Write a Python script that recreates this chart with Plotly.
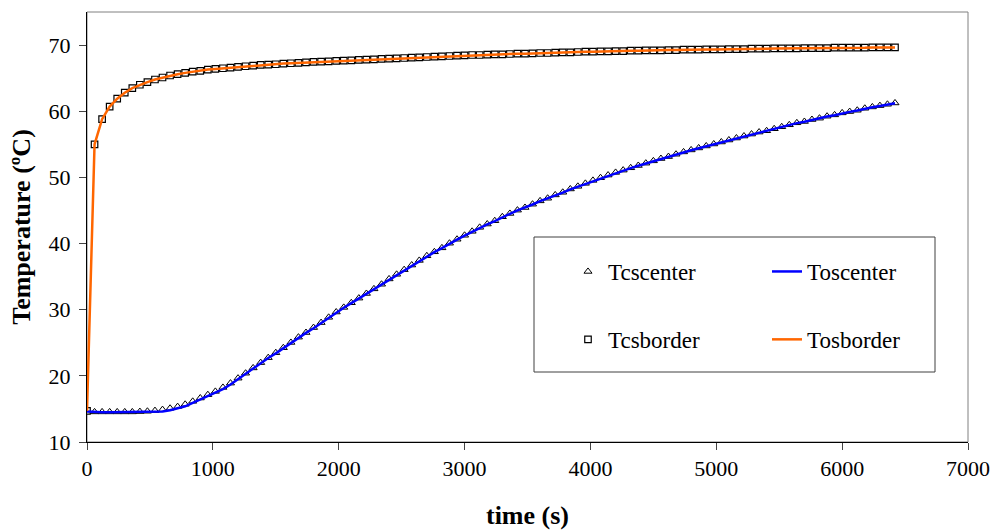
import plotly.graph_objects as go

# time grid (s), one sample every 60 s
time_s = list(range(0, 6421, 60))

# Border temperature (markers: Tcsborder, line: Tosborder)
tc_border = [14.7, 55.0, 58.8, 60.7, 61.9, 62.8, 63.5, 64.0, 64.4, 64.8,
             65.1, 65.4, 65.6, 65.8, 66.0, 66.1, 66.3, 66.4, 66.5, 66.6,
             66.7, 66.8, 66.9, 67.0, 67.05, 67.1, 67.2, 67.25, 67.3, 67.4,
             67.45, 67.5, 67.55, 67.6, 67.65, 67.7, 67.75, 67.8, 67.85, 67.9,
             67.95, 68.0, 68.05, 68.1, 68.15, 68.2, 68.25, 68.3, 68.35, 68.4,
             68.45, 68.5, 68.5, 68.55, 68.6, 68.6, 68.65, 68.7, 68.7, 68.75,
             68.8, 68.8, 68.85, 68.9, 68.9, 68.95, 69.0, 69.0, 69.05, 69.05,
             69.1, 69.1, 69.15, 69.15, 69.2, 69.2, 69.2, 69.25, 69.25, 69.3,
             69.3, 69.3, 69.35, 69.35, 69.35, 69.4, 69.4, 69.4, 69.45, 69.45,
             69.45, 69.5, 69.5, 69.5, 69.5, 69.55, 69.55, 69.55, 69.55, 69.6,
             69.6, 69.6, 69.6, 69.6, 69.65, 69.65, 69.65, 69.65]
to_border = list(tc_border)

# Center temperature, line (Toscenter)
to_center = [14.6, 14.5, 14.5, 14.5, 14.5, 14.5, 14.5, 14.5, 14.5, 14.55,
             14.6, 14.8, 15.05, 15.4, 15.9, 16.4, 16.9, 17.4, 18.0, 18.7,
             19.5, 20.3, 21.1, 21.95, 22.7, 23.4, 24.2, 25.0, 25.8, 26.5,
             27.2, 28.0, 28.8, 29.6, 30.3, 31.0, 31.7, 32.4, 33.1, 33.8,
             34.6, 35.3, 36.0, 36.7, 37.4, 38.1, 38.7, 39.3, 40.0, 40.6,
             41.2, 41.8, 42.4, 42.9, 43.4, 44.0, 44.5, 45.0, 45.4, 45.9,
             46.4, 46.8, 47.3, 47.7, 48.2, 48.6, 49.05, 49.5, 49.9, 50.3,
             50.7, 51.05, 51.4, 51.75, 52.1, 52.45, 52.8, 53.1, 53.45, 53.8,
             54.1, 54.4, 54.7, 55.0, 55.3, 55.6, 55.9, 56.2, 56.5, 56.8,
             57.0, 57.3, 57.6, 57.9, 58.2, 58.4, 58.7, 58.9, 59.2, 59.4,
             59.7, 59.9, 60.1, 60.4, 60.6, 60.8, 61.0, 61.2]

# Center temperature, markers (Tcscenter)
tc_center = [14.6, 14.55, 14.55, 14.55, 14.55, 14.55, 14.55, 14.6, 14.65, 14.75,
             14.9, 15.1, 15.35, 15.7, 16.15, 16.65, 17.15, 17.65, 18.25, 18.9,
             19.65, 20.4, 21.2, 22.0, 22.75, 23.5, 24.25, 25.05, 25.85, 26.55,
             27.3, 28.05, 28.85, 29.65, 30.35, 31.05, 31.75, 32.45, 33.15, 33.85,
             34.65, 35.35, 36.05, 36.75, 37.45, 38.15, 38.75, 39.35, 40.05, 40.65,
             41.25, 41.85, 42.45, 42.95, 43.45, 44.05, 44.55, 45.05, 45.45, 45.95,
             46.45, 46.85, 47.35, 47.75, 48.25, 48.65, 49.1, 49.55, 49.95, 50.35,
             50.75, 51.1, 51.45, 51.8, 52.15, 52.5, 52.85, 53.15, 53.5, 53.85,
             54.15, 54.45, 54.75, 55.05, 55.35, 55.65, 55.95, 56.25, 56.55, 56.85,
             57.05, 57.35, 57.65, 57.95, 58.25, 58.45, 58.75, 58.95, 59.25, 59.45,
             59.75, 59.95, 60.15, 60.45, 60.65, 60.85, 61.05, 61.25]

x_ticks = [0, 1000, 2000, 3000, 4000, 5000, 6000, 7000]
y_ticks = [10, 20, 30, 40, 50, 60, 70]

FONT = "Liberation Serif, Times New Roman, serif"

fig = go.Figure()

fig.add_trace(go.Scatter(
    x=time_s, y=tc_center, name="Tcscenter", mode="markers",
    marker=dict(symbol="triangle-up", size=7, color="white",
                line=dict(color="black", width=1)),
    legend="legend", legendgroup="a"))
fig.add_trace(go.Scatter(
    x=time_s, y=tc_border, name="Tcsborder", mode="markers",
    marker=dict(symbol="square", size=6.5, color="white",
                line=dict(color="black", width=1.2)),
    legend="legend", legendgroup="b"))
fig.add_trace(go.Scatter(
    x=time_s, y=to_center, name="Toscenter", mode="lines",
    line=dict(color="#0000FF", width=2.5),
    legend="legend2", legendgroup="c"))
fig.add_trace(go.Scatter(
    x=time_s, y=to_border, name="Tosborder", mode="lines",
    line=dict(color="#FF6600", width=2.5),
    legend="legend2", legendgroup="d"))

L, T, W, H = 87, 12, 881, 430

fig.update_layout(
    width=994, height=530,
    margin=dict(l=L, r=994 - L - W, t=T, b=530 - T - H),
    paper_bgcolor="white", plot_bgcolor="white",
    font=dict(family=FONT, size=22, color="black"),
    showlegend=True,
    legend=dict(x=(568 - L) / W, y=(T + H - 250) / H, xanchor="left", yanchor="top",
                bgcolor="rgba(0,0,0,0)", borderwidth=0,
                tracegroupgap=35, font=dict(family=FONT, size=23)),
    legend2=dict(x=(767 - L) / W, y=(T + H - 250) / H, xanchor="left", yanchor="top",
                 bgcolor="rgba(0,0,0,0)", borderwidth=0,
                 tracegroupgap=35, font=dict(family=FONT, size=23)),
    xaxis=dict(range=[0, 7000], tickvals=x_ticks, ticks="outside", ticklen=7,
               showline=True, linecolor="black", linewidth=1, showgrid=False,
               zeroline=False, automargin=False, tickfont=dict(size=22),
               title=dict(text="<b>time (s)</b>", font=dict(size=26), standoff=27)),
    yaxis=dict(range=[10, 75], tickvals=y_ticks, ticks="outside", ticklen=7,
               ticklabelstandoff=4,
               showline=True, linecolor="black", linewidth=1, showgrid=False,
               zeroline=False, automargin=False, tickfont=dict(size=22),
               title=dict(text="<b>Temperature (ºC)</b>", font=dict(size=26), standoff=10)),
    shapes=[
        dict(type="rect", xref="paper", yref="paper", x0=0, x1=1, y0=0, y1=1,
             line=dict(color="#808080", width=1), layer="below"),
        dict(type="rect", xref="paper", yref="paper",
             x0=(534 - L) / W, x1=(935 - L) / W,
             y0=(T + H - 372) / H, y1=(T + H - 237) / H,
             line=dict(color="#404040", width=1), layer="below"),
    ],
)

fig.write_html("out.html", config={"displayModeBar": False},
               post_script="document.body.style.margin='0px';")
